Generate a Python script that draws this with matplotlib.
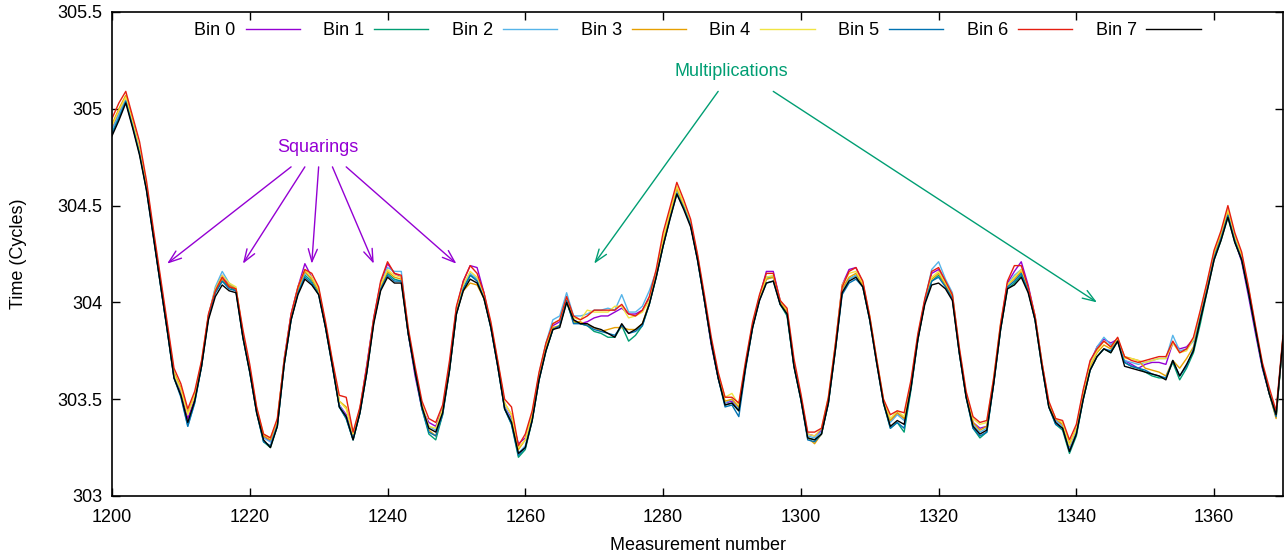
import numpy as np
from matplotlib import pyplot as plt

plt.rcParams['font.family'] = ['Liberation Sans', 'DejaVu Sans']
plt.rcParams['font.size'] = 13

measurement = list(range(1200, 1371))

bin0 = [304.90, 304.98, 305.06, 304.93, 304.78, 304.60, 304.35, 304.11, 303.87, 303.62,
        303.54, 303.40, 303.50, 303.68, 303.93, 304.07, 304.14, 304.09, 304.07, 303.83,
        303.65, 303.44, 303.31, 303.28, 303.38, 303.71, 303.94, 304.08, 304.20, 304.13,
        304.06, 303.88, 303.68, 303.47, 303.42, 303.31, 303.45, 303.68, 303.92, 304.10,
        304.20, 304.15, 304.13, 303.84, 303.62, 303.45, 303.38, 303.36, 303.45, 303.67,
        303.97, 304.11, 304.19, 304.18, 304.05, 303.88, 303.68, 303.46, 303.40, 303.27,
        303.30, 303.42, 303.62, 303.77, 303.88, 303.90, 304.02, 303.91, 303.89, 303.90,
        303.92, 303.93, 303.93, 303.95, 303.97, 303.94, 303.94, 303.96, 304.02, 304.14,
        304.30, 304.45, 304.58, 304.50, 304.40, 304.23, 304.01, 303.78, 303.61, 303.48,
        303.49, 303.45, 303.68, 303.88, 304.03, 304.16, 304.16, 304.01, 303.95, 303.68,
        303.51, 303.32, 303.31, 303.34, 303.49, 303.77, 304.09, 304.17, 304.18, 304.10,
        303.92, 303.70, 303.49, 303.39, 303.43, 303.40, 303.58, 303.82, 304.01, 304.15,
        304.17, 304.10, 304.03, 303.75, 303.52, 303.38, 303.35, 303.36, 303.59, 303.88,
        304.10, 304.16, 304.21, 304.09, 303.93, 303.69, 303.47, 303.39, 303.37, 303.25,
        303.35, 303.54, 303.69, 303.77, 303.81, 303.79, 303.81, 303.70, 303.68, 303.66,
        303.68, 303.69, 303.69, 303.68, 303.79, 303.76, 303.77, 303.81, 303.93, 304.08,
        304.24, 304.34, 304.46, 304.32, 304.21, 304.03, 303.84, 303.66, 303.53, 303.42,
        303.82]
bin1 = [304.88, 304.96, 305.04, 304.91, 304.77, 304.59, 304.35, 304.10, 303.86, 303.61,
        303.52, 303.37, 303.49, 303.67, 303.92, 304.05, 304.11, 304.08, 304.06, 303.82,
        303.64, 303.43, 303.28, 303.25, 303.36, 303.68, 303.91, 304.05, 304.14, 304.11,
        304.05, 303.87, 303.67, 303.46, 303.40, 303.29, 303.43, 303.64, 303.90, 304.07,
        304.15, 304.12, 304.11, 303.84, 303.64, 303.45, 303.32, 303.29, 303.42, 303.65,
        303.94, 304.07, 304.14, 304.12, 304.03, 303.87, 303.67, 303.45, 303.37, 303.20,
        303.24, 303.39, 303.60, 303.75, 303.86, 303.88, 304.00, 303.90, 303.89, 303.88,
        303.85, 303.84, 303.82, 303.82, 303.88, 303.80, 303.83, 303.88, 303.99, 304.13,
        304.29, 304.44, 304.57, 304.49, 304.40, 304.22, 304.01, 303.79, 303.61, 303.47,
        303.48, 303.44, 303.67, 303.87, 304.02, 304.13, 304.13, 303.99, 303.93, 303.67,
        303.50, 303.30, 303.29, 303.32, 303.48, 303.75, 304.06, 304.12, 304.14, 304.08,
        303.91, 303.69, 303.48, 303.35, 303.38, 303.33, 303.55, 303.81, 304.00, 304.11,
        304.14, 304.09, 304.02, 303.74, 303.51, 303.35, 303.30, 303.33, 303.58, 303.86,
        304.07, 304.10, 304.14, 304.06, 303.91, 303.67, 303.46, 303.37, 303.34, 303.22,
        303.31, 303.50, 303.65, 303.72, 303.76, 303.74, 303.80, 303.69, 303.67, 303.66,
        303.64, 303.62, 303.61, 303.61, 303.69, 303.60, 303.66, 303.74, 303.89, 304.06,
        304.22, 304.32, 304.44, 304.31, 304.22, 304.05, 303.86, 303.67, 303.53, 303.41,
        303.81]
bin2 = [304.89, 304.97, 305.05, 304.92, 304.78, 304.59, 304.35, 304.11, 303.87, 303.62,
        303.52, 303.36, 303.48, 303.68, 303.93, 304.08, 304.16, 304.10, 304.07, 303.83,
        303.65, 303.44, 303.30, 303.28, 303.38, 303.69, 303.92, 304.06, 304.15, 304.12,
        304.06, 303.88, 303.68, 303.47, 303.41, 303.30, 303.44, 303.66, 303.91, 304.09,
        304.18, 304.16, 304.16, 303.85, 303.64, 303.46, 303.36, 303.34, 303.44, 303.66,
        303.96, 304.09, 304.15, 304.12, 304.03, 303.88, 303.68, 303.46, 303.39, 303.22,
        303.26, 303.41, 303.63, 303.79, 303.91, 303.93, 304.05, 303.93, 303.93, 303.94,
        303.96, 303.96, 303.97, 303.96, 304.04, 303.95, 303.95, 303.98, 304.06, 304.16,
        304.32, 304.45, 304.58, 304.50, 304.40, 304.23, 304.02, 303.80, 303.62, 303.48,
        303.50, 303.45, 303.68, 303.88, 304.02, 304.12, 304.13, 304.00, 303.95, 303.68,
        303.51, 303.31, 303.30, 303.33, 303.49, 303.76, 304.06, 304.12, 304.14, 304.09,
        303.92, 303.70, 303.49, 303.38, 303.42, 303.39, 303.57, 303.82, 304.01, 304.17,
        304.21, 304.12, 304.05, 303.75, 303.52, 303.37, 303.33, 303.35, 303.59, 303.87,
        304.09, 304.14, 304.17, 304.07, 303.92, 303.68, 303.47, 303.39, 303.36, 303.24,
        303.33, 303.52, 303.68, 303.77, 303.82, 303.78, 303.81, 303.70, 303.69, 303.68,
        303.69, 303.70, 303.71, 303.71, 303.83, 303.75, 303.76, 303.80, 303.93, 304.08,
        304.24, 304.34, 304.46, 304.33, 304.23, 304.06, 303.86, 303.67, 303.53, 303.41,
        303.82]
bin3 = [304.92, 305.00, 305.07, 304.94, 304.79, 304.61, 304.36, 304.12, 303.88, 303.64,
        303.56, 303.43, 303.52, 303.69, 303.93, 304.06, 304.12, 304.09, 304.07, 303.84,
        303.66, 303.45, 303.31, 303.29, 303.39, 303.70, 303.93, 304.07, 304.16, 304.12,
        304.06, 303.88, 303.69, 303.49, 303.46, 303.32, 303.45, 303.66, 303.91, 304.08,
        304.16, 304.13, 304.12, 303.85, 303.65, 303.47, 303.34, 303.31, 303.43, 303.66,
        303.95, 304.06, 304.10, 304.09, 304.02, 303.88, 303.69, 303.48, 303.42, 303.24,
        303.29, 303.42, 303.62, 303.77, 303.87, 303.88, 304.01, 303.90, 303.90, 303.88,
        303.87, 303.85, 303.86, 303.87, 303.87, 303.86, 303.86, 303.89, 304.00, 304.14,
        304.31, 304.46, 304.59, 304.50, 304.41, 304.24, 304.02, 303.80, 303.62, 303.49,
        303.50, 303.46, 303.68, 303.88, 304.02, 304.12, 304.13, 304.00, 303.95, 303.68,
        303.51, 303.30, 303.27, 303.32, 303.49, 303.76, 304.07, 304.13, 304.15, 304.09,
        303.92, 303.70, 303.49, 303.39, 303.43, 303.40, 303.58, 303.82, 304.00, 304.12,
        304.15, 304.09, 304.03, 303.75, 303.52, 303.38, 303.34, 303.36, 303.59, 303.87,
        304.09, 304.12, 304.16, 304.07, 303.92, 303.68, 303.47, 303.40, 303.37, 303.27,
        303.35, 303.52, 303.67, 303.74, 303.78, 303.76, 303.81, 303.72, 303.71, 303.70,
        303.66, 303.65, 303.64, 303.62, 303.70, 303.66, 303.71, 303.77, 303.92, 304.09,
        304.25, 304.35, 304.47, 304.34, 304.24, 304.07, 303.87, 303.68, 303.53, 303.40,
        303.82]
bin4 = [304.91, 304.99, 305.06, 304.93, 304.79, 304.60, 304.36, 304.12, 303.88, 303.63,
        303.55, 303.42, 303.52, 303.69, 303.93, 304.07, 304.14, 304.10, 304.08, 303.84,
        303.66, 303.45, 303.32, 303.30, 303.39, 303.70, 303.93, 304.08, 304.17, 304.13,
        304.07, 303.89, 303.69, 303.49, 303.45, 303.32, 303.45, 303.66, 303.91, 304.09,
        304.17, 304.14, 304.13, 303.86, 303.65, 303.47, 303.36, 303.35, 303.45, 303.67,
        303.97, 304.09, 304.16, 304.13, 304.04, 303.89, 303.69, 303.48, 303.42, 303.25,
        303.29, 303.43, 303.63, 303.78, 303.89, 303.91, 304.02, 303.92, 303.91, 303.96,
        303.95, 303.95, 303.95, 303.98, 303.98, 303.92, 303.93, 303.95, 304.01, 304.15,
        304.33, 304.47, 304.60, 304.51, 304.41, 304.24, 304.02, 303.80, 303.63, 303.51,
        303.53, 303.47, 303.69, 303.89, 304.03, 304.13, 304.14, 304.01, 303.96, 303.69,
        303.52, 303.32, 303.31, 303.35, 303.51, 303.78, 304.09, 304.15, 304.16, 304.10,
        303.93, 303.71, 303.50, 303.40, 303.44, 303.41, 303.59, 303.83, 304.01, 304.13,
        304.16, 304.10, 304.04, 303.76, 303.53, 303.40, 303.37, 303.38, 303.61, 303.89,
        304.09, 304.13, 304.17, 304.07, 303.93, 303.69, 303.48, 303.40, 303.38, 303.26,
        303.35, 303.53, 303.68, 303.75, 303.80, 303.77, 303.81, 303.71, 303.71, 303.70,
        303.69, 303.70, 303.71, 303.71, 303.79, 303.74, 303.75, 303.81, 303.95, 304.10,
        304.26, 304.36, 304.48, 304.34, 304.25, 304.07, 303.87, 303.68, 303.54, 303.42,
        303.82]
bin5 = [304.87, 304.95, 305.04, 304.91, 304.77, 304.58, 304.34, 304.10, 303.86, 303.61,
        303.51, 303.36, 303.48, 303.67, 303.92, 304.05, 304.11, 304.07, 304.06, 303.82,
        303.64, 303.43, 303.28, 303.26, 303.36, 303.68, 303.91, 304.05, 304.13, 304.10,
        304.04, 303.87, 303.67, 303.46, 303.40, 303.29, 303.43, 303.64, 303.90, 304.07,
        304.14, 304.11, 304.11, 303.84, 303.64, 303.45, 303.33, 303.31, 303.42, 303.65,
        303.94, 304.07, 304.14, 304.11, 304.02, 303.87, 303.67, 303.45, 303.37, 303.21,
        303.25, 303.39, 303.60, 303.75, 303.86, 303.88, 304.01, 303.89, 303.89, 303.88,
        303.86, 303.85, 303.84, 303.83, 303.88, 303.84, 303.85, 303.88, 303.99, 304.13,
        304.29, 304.43, 304.56, 304.49, 304.40, 304.22, 304.01, 303.79, 303.61, 303.46,
        303.47, 303.41, 303.66, 303.87, 304.01, 304.10, 304.11, 303.99, 303.94, 303.67,
        303.50, 303.29, 303.28, 303.32, 303.48, 303.75, 304.04, 304.10, 304.12, 304.08,
        303.91, 303.69, 303.48, 303.35, 303.38, 303.35, 303.56, 303.81, 304.00, 304.11,
        304.13, 304.08, 304.02, 303.74, 303.51, 303.35, 303.31, 303.33, 303.58, 303.86,
        304.08, 304.11, 304.15, 304.06, 303.91, 303.67, 303.46, 303.37, 303.35, 303.23,
        303.32, 303.50, 303.65, 303.72, 303.76, 303.75, 303.80, 303.69, 303.67, 303.66,
        303.65, 303.63, 303.62, 303.61, 303.70, 303.62, 303.67, 303.76, 303.92, 304.07,
        304.23, 304.33, 304.45, 304.32, 304.22, 304.05, 303.86, 303.67, 303.53, 303.41,
        303.81]
bin6 = [304.95, 305.03, 305.09, 304.96, 304.83, 304.63, 304.38, 304.14, 303.90, 303.66,
        303.58, 303.45, 303.54, 303.70, 303.94, 304.06, 304.13, 304.08, 304.07, 303.86,
        303.68, 303.46, 303.32, 303.30, 303.40, 303.70, 303.94, 304.08, 304.17, 304.15,
        304.08, 303.90, 303.70, 303.52, 303.51, 303.33, 303.46, 303.67, 303.92, 304.11,
        304.21, 304.15, 304.14, 303.87, 303.67, 303.49, 303.40, 303.38, 303.47, 303.70,
        303.98, 304.11, 304.19, 304.15, 304.05, 303.90, 303.70, 303.50, 303.46, 303.26,
        303.32, 303.44, 303.64, 303.79, 303.89, 303.91, 304.03, 303.93, 303.91, 303.93,
        303.96, 303.96, 303.96, 303.96, 303.99, 303.94, 303.93, 303.96, 304.03, 304.17,
        304.36, 304.49, 304.62, 304.53, 304.43, 304.25, 304.04, 303.82, 303.64, 303.51,
        303.51, 303.48, 303.70, 303.90, 304.04, 304.15, 304.15, 304.01, 303.97, 303.71,
        303.53, 303.33, 303.33, 303.35, 303.51, 303.78, 304.08, 304.16, 304.18, 304.11,
        303.93, 303.71, 303.50, 303.42, 303.44, 303.43, 303.60, 303.84, 304.02, 304.16,
        304.18, 304.11, 304.04, 303.77, 303.54, 303.41, 303.38, 303.39, 303.61, 303.89,
        304.11, 304.19, 304.19, 304.08, 303.93, 303.69, 303.49, 303.40, 303.39, 303.29,
        303.37, 303.55, 303.70, 303.76, 303.80, 303.77, 303.82, 303.72, 303.70, 303.69,
        303.70, 303.71, 303.72, 303.72, 303.80, 303.74, 303.76, 303.82, 303.96, 304.11,
        304.27, 304.37, 304.50, 304.36, 304.26, 304.08, 303.88, 303.69, 303.56, 303.44,
        303.83]
bin7 = [304.86, 304.94, 305.03, 304.90, 304.76, 304.58, 304.34, 304.10, 303.86, 303.61,
        303.52, 303.38, 303.49, 303.67, 303.91, 304.03, 304.09, 304.06, 304.05, 303.82,
        303.64, 303.43, 303.29, 303.25, 303.36, 303.68, 303.91, 304.04, 304.12, 304.09,
        304.04, 303.87, 303.67, 303.46, 303.41, 303.29, 303.43, 303.64, 303.89, 304.06,
        304.13, 304.10, 304.10, 303.84, 303.64, 303.46, 303.35, 303.33, 303.43, 303.65,
        303.94, 304.06, 304.12, 304.10, 304.02, 303.87, 303.67, 303.45, 303.38, 303.22,
        303.25, 303.39, 303.60, 303.75, 303.86, 303.87, 304.00, 303.91, 303.89, 303.89,
        303.87, 303.86, 303.84, 303.82, 303.89, 303.84, 303.86, 303.89, 303.99, 304.13,
        304.29, 304.43, 304.56, 304.48, 304.39, 304.22, 304.01, 303.79, 303.61, 303.47,
        303.48, 303.44, 303.67, 303.87, 304.01, 304.10, 304.11, 303.99, 303.94, 303.67,
        303.50, 303.30, 303.29, 303.32, 303.48, 303.75, 304.05, 304.11, 304.13, 304.08,
        303.91, 303.69, 303.48, 303.36, 303.39, 303.37, 303.56, 303.81, 303.99, 304.09,
        304.10, 304.07, 304.01, 303.74, 303.51, 303.36, 303.32, 303.34, 303.58, 303.86,
        304.07, 304.09, 304.13, 304.05, 303.91, 303.67, 303.46, 303.38, 303.35, 303.23,
        303.32, 303.50, 303.65, 303.72, 303.76, 303.74, 303.80, 303.67, 303.66, 303.65,
        303.64, 303.63, 303.62, 303.60, 303.70, 303.62, 303.68, 303.75, 303.91, 304.06,
        304.22, 304.32, 304.44, 304.31, 304.22, 304.05, 303.86, 303.67, 303.53, 303.42,
        303.81]

bins = [bin0, bin1, bin2, bin3, bin4, bin5, bin6, bin7]
labels = ['Bin 0', 'Bin 1', 'Bin 2', 'Bin 3', 'Bin 4', 'Bin 5', 'Bin 6', 'Bin 7']
colors = ['#9400d3', '#009e73', '#56b4e9', '#e69f00', '#f0e442', '#0072b2', '#e51e10', '#000000']

# arrow annotations (head, tail) in data coords
sq_heads = [(1208, 304.2), (1219, 304.2), (1229, 304.2), (1238, 304.2), (1250, 304.2)]
sq_tails = [(1226, 304.70), (1228, 304.70), (1230, 304.70), (1232, 304.70), (1234, 304.70)]
mul_heads = [(1270, 304.2), (1343, 304.0)]
mul_tails = [(1288, 305.09), (1296, 305.09)]

fig = plt.figure(figsize=(12.87, 5.54), dpi=100)
ax = fig.add_axes([112/1287, 58/554, 1171/1287, 484/554])

for b, lab, c in zip(bins, labels, colors):
    ax.plot(measurement, b, color=c, lw=1.0, label=lab)

ax.set_xlim(1200, 1370)
ax.set_ylim(303, 305.5)
ax.set_xticks(range(1200, 1361, 20))
ax.set_yticks(np.arange(303, 305.51, 0.5))
ax.set_yticklabels(['%g' % v for v in np.arange(303, 305.51, 0.5)])
ax.tick_params(axis='both', direction='in', length=6, width=1, top=True, right=True)
ax.tick_params(axis='x', pad=9)
ax.tick_params(axis='y', pad=7)
for s in ax.spines.values():
    s.set_linewidth(1.2)

ax.set_xlabel('Measurement number', labelpad=8)
ax.set_ylabel('Time (Cycles)', labelpad=22)

purple = '#9400d3'
green = '#009e73'
ax.text(1229.9, 304.80, 'Squarings', color=purple, ha='center', va='center')
for h, t in zip(sq_heads, sq_tails):
    ax.annotate('', xy=h, xytext=t,
                arrowprops=dict(arrowstyle='->,head_length=0.7,head_width=0.25',
                                color=purple, lw=1.0, shrinkA=0, shrinkB=0))
ax.text(1289.9, 305.195, 'Multiplications', color=green, ha='center', va='center')
for h, t in zip(mul_heads, mul_tails):
    ax.annotate('', xy=h, xytext=t,
                arrowprops=dict(arrowstyle='->,head_length=0.7,head_width=0.25',
                                color=green, lw=1.0, shrinkA=0, shrinkB=0))

ax.legend(loc='center', bbox_to_anchor=(0.5, 0.962), ncol=8, frameon=False,
          markerfirst=False, handlelength=3.0, handletextpad=0.55, columnspacing=1.3,
          borderaxespad=0)

plt.savefig('out.png', dpi=100)
